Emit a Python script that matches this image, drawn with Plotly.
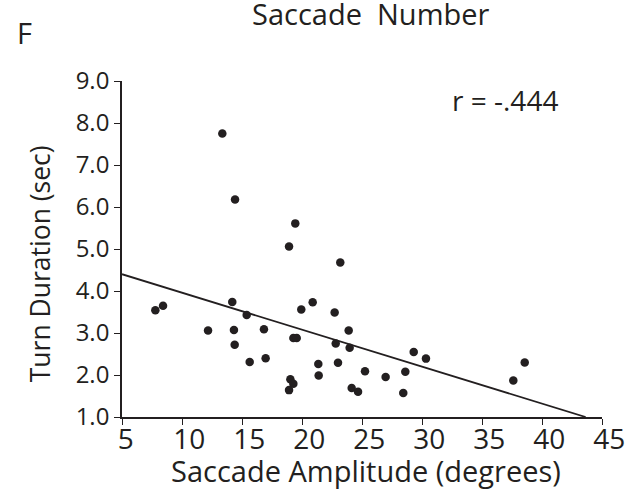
import numpy as np
import plotly.graph_objects as go

# Saccade amplitude (degrees) vs. turn duration (sec), one point per turn
amplitude = [13.36, 14.42, 19.44, 18.92, 23.19, 7.78, 8.42, 12.17, 14.19, 14.33,
             14.39, 15.39, 15.64, 16.83, 16.97, 19.94, 19.28, 19.56, 19.03, 19.28,
             18.92, 20.89, 22.72, 23.89, 22.81, 23.97, 21.36, 21.39, 23.00, 25.25,
             26.97, 28.61, 29.31, 30.33, 24.14, 24.67, 28.44, 38.56, 37.61]
duration = [7.75, 6.18, 5.61, 5.06, 4.68, 3.54, 3.65, 3.06, 3.74, 3.07,
            2.72, 3.43, 2.31, 3.09, 2.40, 3.56, 2.88, 2.88, 1.90, 1.79,
            1.64, 3.73, 3.49, 3.06, 2.75, 2.65, 2.26, 1.99, 2.29, 2.09,
            1.95, 2.08, 2.55, 2.39, 1.69, 1.60, 1.57, 2.30, 1.87]

# Least-squares fit line (y = intercept + slope * x)
fit_intercept = 4.84
fit_slope = -0.0880
r_value = "-.444"

x_ticks = [5, 10, 15, 20, 25, 30, 35, 40, 45]
y_ticks = [1.0, 2.0, 3.0, 4.0, 5.0, 6.0, 7.0, 8.0, 9.0]
x_range = [5, 45]
y_range = [1, 9]

INK = "#231f20"
FONT = "Open Sans"
NBSP = "\u00a0"

# the fit is drawn from the left edge until it reaches the bottom of the y range
x_end = (y_range[0] - fit_intercept) / fit_slope
fit_x = np.array([x_range[0], min(x_end, x_range[1])])
fit_y = fit_intercept + fit_slope * fit_x

fig = go.Figure()
fig.add_trace(go.Scatter(x=fit_x, y=fit_y, mode="lines",
                         line=dict(color=INK, width=1.8), hoverinfo="skip"))
fig.add_trace(go.Scatter(x=amplitude, y=duration, mode="markers",
                         marker=dict(color=INK, size=8.5, line=dict(width=0))))

L, R, T, B = 122, 26, 80.7, 73.3
W, H = 628, 490
pw, ph = W - L - R, H - T - B


def px(x):
    return (x - L) / pw


def py(y):
    return (H - B - y) / ph


# x labels sit slightly right of their ticks (left-leaning alignment)
x_labels = [NBSP * len(str(v)) + str(v) for v in x_ticks]

fig.update_layout(
    width=W, height=H,
    margin=dict(l=L, r=R, t=T, b=B, pad=0, autoexpand=False),
    paper_bgcolor="white", plot_bgcolor="white",
    showlegend=False,
    font=dict(family=FONT, color=INK),
    xaxis=dict(range=x_range, tickvals=x_ticks, ticktext=x_labels,
               automargin=False,
               showgrid=False, zeroline=False, showline=True, linecolor=INK,
               linewidth=1.6, ticks="outside", ticklen=6, tickwidth=1.4,
               tickcolor=INK, ticklabelstandoff=-9,
               tickfont=dict(size=28, family=FONT, color=INK)),
    yaxis=dict(range=y_range, tickvals=y_ticks, ticktext=[f"{v:.1f}" for v in y_ticks],
               automargin=False,
               showgrid=False, zeroline=False, showline=True, linecolor=INK,
               linewidth=1.6, ticks="outside", ticklen=6, tickwidth=1.4,
               tickcolor=INK, tickfont=dict(size=24, family=FONT, color=INK)),
    annotations=[
        dict(text="Saccade Amplitude (degrees)", x=px(366), y=py(470),
             xref="paper", yref="paper", showarrow=False,
             xanchor="center", yanchor="middle", font=dict(size=29)),
        dict(text="Turn Duration (sec)", x=px(40), y=py(264),
             xref="paper", yref="paper", showarrow=False, textangle=-90,
             xanchor="center", yanchor="middle", font=dict(size=26.5)),
        dict(text=f"r = {r_value}", x=px(505), y=py(100),
             xref="paper", yref="paper", showarrow=False,
             xanchor="center", yanchor="middle", font=dict(size=28)),
        dict(text="F", x=px(24), y=py(32),
             xref="paper", yref="paper", showarrow=False,
             xanchor="center", yanchor="middle", font=dict(size=29)),
        dict(text="Saccade  Number", x=px(371), y=py(13),
             xref="paper", yref="paper", showarrow=False,
             xanchor="center", yanchor="middle", font=dict(size=29)),
    ],
)

fig.write_html("out.html")
